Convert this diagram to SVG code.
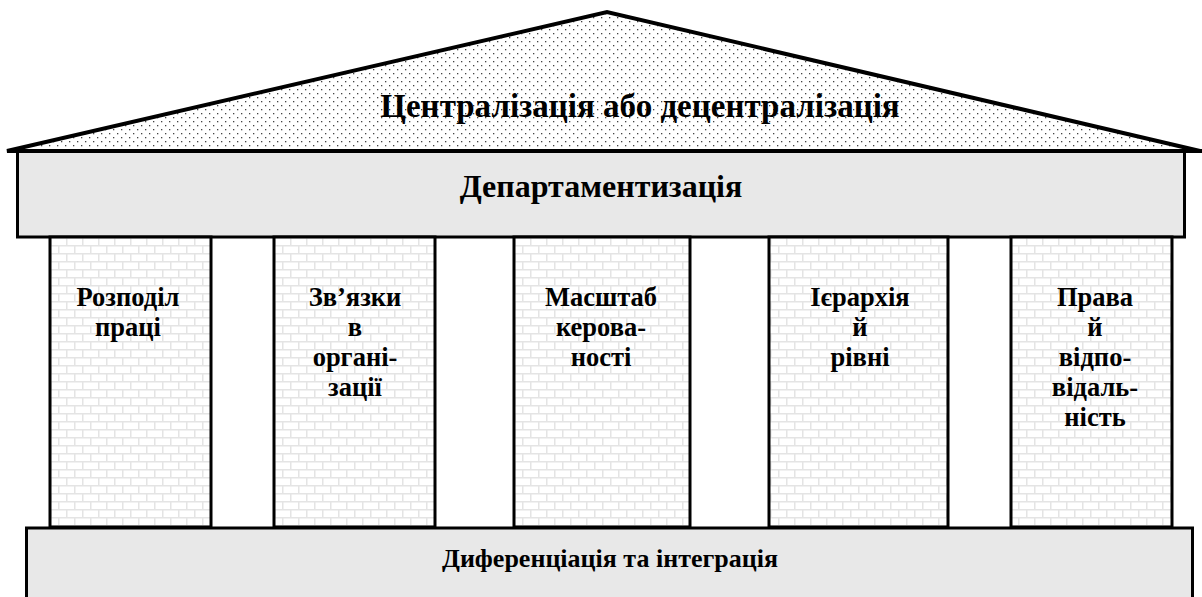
<svg xmlns="http://www.w3.org/2000/svg" width="1202" height="597" viewBox="0 0 1202 597">
<defs>
<pattern id="dots" width="8" height="8" patternUnits="userSpaceOnUse">
<rect width="8" height="8" fill="#ffffff"/>
<rect x="1" y="1" width="1.3" height="1.3" fill="#444"/>
<rect x="5" y="5" width="1.3" height="1.3" fill="#444"/>
</pattern>
<pattern id="bricks" width="16" height="16" patternUnits="userSpaceOnUse" x="50" y="237">
<rect width="16" height="16" fill="#ffffff"/>
<path d="M0 0.75H16M0 8.75H16M0.75 0V8M8.75 8V16" stroke="#e4e4e4" stroke-width="1.5" fill="none"/>
</pattern>
<style>
.t{font-family:'Liberation Serif','DejaVu Serif',serif;font-weight:700;fill:#000;text-anchor:middle}
.big{font-size:33px}
.mid{font-size:32px}
.col{font-size:26.5px}
.low{font-size:26px}
.band{fill:#e8e8e8;stroke:#000;stroke-width:3}
.pillar{fill:url(#bricks);stroke:#000;stroke-width:3}
</style>
</defs>
<g id="roof">
<polygon points="7,151 607,12 1200,151" fill="url(#dots)" stroke="#000" stroke-width="4" stroke-linejoin="miter"/>
<text class="t big" x="640" y="117">Централізація або децентралізація</text>
</g>
<g id="departmentalization">
<rect class="band" x="17.5" y="151" width="1167" height="86"/>
<line x1="7" y1="151" x2="1202" y2="151" stroke="#000" stroke-width="4"/>
<text class="t mid" x="601" y="197">Департаментизація</text>
</g>
<g id="pillar1">
<rect class="pillar" x="50" y="237" width="161" height="290"/>
<text class="t col" x="128" y="306">Розподіл</text>
<text class="t col" x="128" y="336">праці</text>
</g>
<g id="pillar2">
<rect class="pillar" x="274" y="237" width="161" height="290"/>
<text class="t col" x="355" y="306">Зв’язки</text>
<text class="t col" x="355" y="336">в</text>
<text class="t col" x="355" y="366">органі-</text>
<text class="t col" x="355" y="396">зації</text>
</g>
<g id="pillar3">
<rect class="pillar" x="514" y="237" width="176" height="290"/>
<text class="t col" x="601" y="306">Масштаб</text>
<text class="t col" x="601" y="336">керова-</text>
<text class="t col" x="601" y="366">ності</text>
</g>
<g id="pillar4">
<rect class="pillar" x="769" y="237" width="179" height="290"/>
<text class="t col" x="860" y="306">Ієрархія</text>
<text class="t col" x="860" y="336">й</text>
<text class="t col" x="860" y="366">рівні</text>
</g>
<g id="pillar5">
<rect class="pillar" x="1011" y="237" width="161" height="290"/>
<text class="t col" x="1095" y="306">Права</text>
<text class="t col" x="1095" y="336">й</text>
<text class="t col" x="1095" y="366">відпо-</text>
<text class="t col" x="1095" y="396">відаль-</text>
<text class="t col" x="1095" y="426">ність</text>
</g>
<g id="base">
<rect class="band" x="26.5" y="528" width="1166" height="80"/>
<text class="t low" x="610" y="567">Диференціація та інтеграція</text>
</g>
<g id="connectors"></g>
</svg>
